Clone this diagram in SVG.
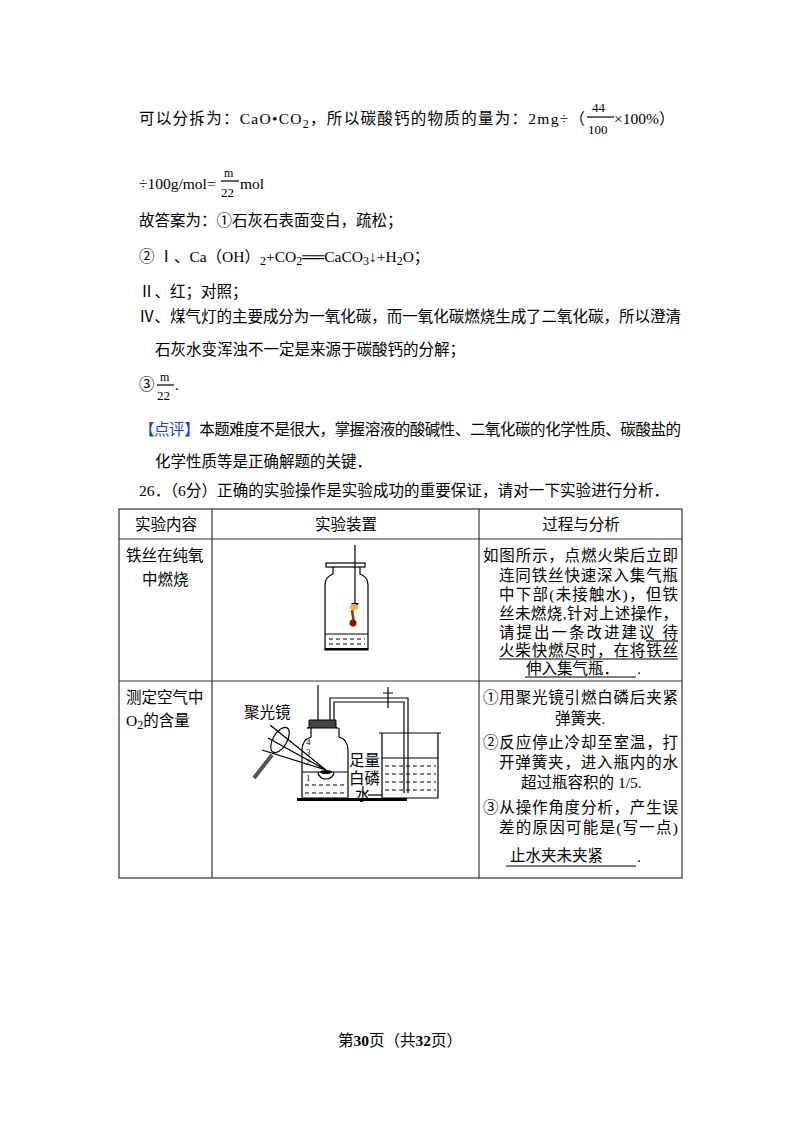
<svg xmlns="http://www.w3.org/2000/svg" width="800" height="1132" viewBox="0 0 800 1132">
<style>
text{font-family:"Liberation Serif","Noto Sans CJK SC",serif;font-size:15.5px;fill:#000}
.s{font-size:12px}
.f{font-size:13px}
.n{font-size:9px}
.ln{stroke:#000;fill:none;stroke-width:1.2}
.tb{stroke:#333;stroke-width:1.2;fill:none}
</style>
<rect width="800" height="1132" fill="#fff"/>
<g id="text">
<text x="139" y="124" textLength="446">可以分拆为：CaO•CO<tspan class="s" dy="4">2</tspan><tspan dy="-4">，所以碳酸钙的物质的量为：2mg÷（</tspan></text>
<text x="592" y="112" class="f">44</text>
<line x1="587" y1="117" x2="614" y2="117" class="ln" stroke-width="1"/>
<text x="588" y="134" class="f">100</text>
<text x="614" y="124">×100%）</text>
<text x="139" y="189">÷100g/mol=</text>
<text x="224" y="177" class="s">m</text>
<line x1="221" y1="181" x2="239" y2="181" class="ln" stroke-width="1"/>
<text x="221" y="197" class="f">22</text>
<text x="240" y="189">mol</text>
<text x="139" y="226">故答案为：①石灰石表面变白，疏松；</text>
<text x="139" y="262">② Ⅰ、Ca（OH）<tspan class="s" dy="3">2</tspan><tspan dy="-3">+CO</tspan><tspan class="s" dy="3">2</tspan><tspan dy="-3">══CaCO</tspan><tspan class="s" dy="3">3</tspan><tspan dy="-3">↓+H</tspan><tspan class="s" dy="3">2</tspan><tspan dy="-3">O；</tspan></text>
<text x="139" y="297">Ⅱ、红；对照；</text>
<text x="139" y="322" textLength="542">Ⅳ、煤气灯的主要成分为一氧化碳，而一氧化碳燃烧生成了二氧化碳，所以澄清</text>
<text x="155" y="355">石灰水变浑浊不一定是来源于碳酸钙的分解；</text>
<text x="139" y="390">③</text>
<text x="160" y="381" class="s">m</text>
<line x1="157" y1="385" x2="174" y2="385" class="ln" stroke-width="1"/>
<text x="157" y="400" class="f">22</text>
<text x="175" y="390">.</text>
<text x="139" y="435" textLength="542"><tspan fill="#1a3ec8">【点评】</tspan>本题难度不是很大，掌握溶液的酸碱性、二氧化碳的化学性质、碳酸盐的</text>
<text x="155" y="467">化学性质等是正确解题的关键．</text>
<text x="139" y="496" textLength="530">26．（6分）正确的实验操作是实验成功的重要保证，请对一下实验进行分析．</text>
<text x="400" y="1046" text-anchor="middle" font-size="12">第<tspan font-weight="bold">30</tspan>页（共<tspan font-weight="bold">32</tspan>页）</text>
</g>
<g id="table">
<rect x="119" y="509" width="563" height="369" class="tb"/>
<line x1="119" y1="539" x2="682" y2="539" class="tb"/>
<line x1="119" y1="681" x2="682" y2="681" class="tb"/>
<line x1="212" y1="509" x2="212" y2="878" class="tb"/>
<line x1="479" y1="509" x2="479" y2="878" class="tb"/>
<text x="166" y="530" text-anchor="middle">实验内容</text>
<text x="346" y="530" text-anchor="middle">实验装置</text>
<text x="581" y="530" text-anchor="middle">过程与分析</text>
<text x="126" y="561">铁丝在纯氧</text>
<text x="142" y="585">中燃烧</text>
<text x="126" y="703">测定空气中</text>
<text x="126" y="726">O<tspan class="s" dy="3">2</tspan><tspan dy="-3">的含量</tspan></text>
</g>
<g id="row1text">
<text x="483" y="561" textLength="195">如图所示，点燃火柴后立即</text>
<text x="499" y="581" textLength="179">连同铁丝快速深入集气瓶</text>
<text x="499" y="600" textLength="179">中下部(未接触水)，但铁</text>
<text x="499" y="619" textLength="179">丝未燃烧,针对上述操作，</text>
<text x="499" y="638" textLength="179">请提出一条改进建议  待</text>
<text x="499" y="656" textLength="179">火柴快燃尽时，在将铁丝</text>
<text x="526" y="674">伸入集气瓶．</text>
<text x="637" y="674">.</text>
<line x1="646" y1="641" x2="678" y2="641" class="ln" stroke-width="0.8"/>
<line x1="499" y1="659" x2="678" y2="659" class="ln" stroke-width="0.8"/>
<line x1="525" y1="677" x2="636" y2="677" class="ln" stroke-width="0.8"/>
</g>
<g id="row2text">
<text x="483" y="703" textLength="195">①用聚光镜引燃白磷后夹紧</text>
<text x="555" y="724">弹簧夹.</text>
<text x="483" y="748" textLength="195">②反应停止冷却至室温，打</text>
<text x="499" y="768" textLength="179">开弹簧夹，进入瓶内的水</text>
<text x="521" y="788">超过瓶容积的 1/5.</text>
<text x="483" y="813" textLength="195">③从操作角度分析，产生误</text>
<text x="499" y="833" textLength="179">差的原因可能是(写一点)</text>
<text x="510" y="861">止水夹未夹紧</text>
<line x1="506" y1="866" x2="636" y2="866" class="ln" stroke-width="0.8"/>
<text x="637" y="862">.</text>
</g>
<g id="bottle1">
<line x1="355" y1="545" x2="355" y2="603" class="ln"/>
<path d="M351 603 L355 608 L359 603" fill="#000"/>
<rect x="326" y="563" width="39" height="4" class="ln"/>
<path d="M333 567 V574 Q325 577 325 585 V650 H368 V585 Q368 577 360 574 V567" class="ln"/>
<line x1="325" y1="634" x2="368" y2="634" class="ln"/>
<path d="M329 639 H365 M329 644 H365" stroke="#000" stroke-dasharray="4 3"/>
<rect x="325" y="648" width="43" height="2" fill="#000"/>
<ellipse cx="354" cy="607" rx="4" ry="3" fill="#e8b640"/>
<path d="M352 610 L354 624" stroke="#8a3a10" stroke-width="2.5"/>
<circle cx="353" cy="623" r="3.5" fill="#7a1a05"/>
</g>
<g id="apparatus2">
<text x="244" y="718" font-size="15">聚光镜</text>
<line x1="318" y1="685" x2="318" y2="728" class="ln"/>
<path d="M309 720 H336 V726 Q335 728 338 728 H307 Q310 728 309 726 Z" fill="#444" stroke="#000"/>
<path d="M311 728 V737 Q302 740 302 750 V798 H348 V750 Q348 740 339 737 V728" class="ln"/>
<line x1="302" y1="772" x2="348" y2="772" class="ln"/>
<path d="M305 785 H345 M305 793 H345" stroke="#000" stroke-dasharray="4 3"/>
<path d="M318 772 A8 7 0 0 0 334 772" class="ln"/>
<ellipse cx="326" cy="772" rx="6" ry="2" fill="#000"/>
<text x="306" y="745" class="n">4</text><text x="306" y="755" class="n">3</text><text x="306" y="765" class="n">2</text><text x="306" y="781" class="n">1</text>
<rect x="297" y="798" width="110" height="3" fill="#000"/>
<path d="M330 720 V698 H408 V793 M334 720 V702 H404 V793" class="ln" stroke-width="1"/>
<path d="M388 687 V708 M383 693 h10" class="ln"/>
<path d="M382 733 V798 H438 V733" class="ln"/>
<line x1="379" y1="733" x2="441" y2="733" class="ln" stroke-width="0.8"/>
<line x1="382" y1="758" x2="438" y2="758" class="ln"/>
<path d="M385 766 H436 M385 774 H436 M385 782 H436 M385 790 H436" stroke="#000" stroke-dasharray="4 3"/>
<text x="349" y="766" font-size="14">足量</text>
<text x="349" y="784" font-size="14">白磷</text>
<text x="355" y="800" font-size="12">水</text>
<line x1="368" y1="795" x2="382" y2="795" class="ln" stroke-width="0.8"/>
<path d="M268 738 L326 770 M262 750 L326 770 M270 725 L326 770" class="ln" stroke-width="0.8"/>
<ellipse cx="280" cy="740" rx="7" ry="14" transform="rotate(30 280 740)" class="ln" fill="#eee"/>
<line x1="272" y1="755" x2="254" y2="778" stroke="#555" stroke-width="4"/>
</g>
</svg>
